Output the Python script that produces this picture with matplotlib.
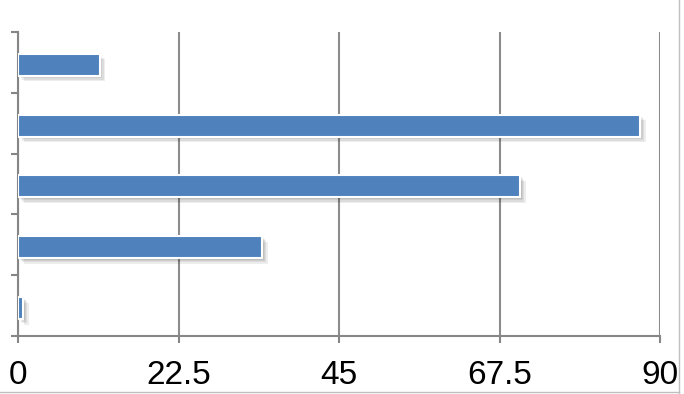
import matplotlib
matplotlib.use('Agg')
import matplotlib.pyplot as plt
import matplotlib.patheffects as pe
from matplotlib.lines import Line2D

# bar values, top to bottom
values = [11.4, 87.2, 70.4, 34.2, 0.7]
xticks = [0, 22.5, 45, 67.5, 90]
xticklabels = ['0', '22.5', '45', '67.5', '90']

plt.rcParams['font.family'] = ['Liberation Sans', 'DejaVu Sans']

fig = plt.figure(figsize=(6.84, 3.94), dpi=100)
ax = fig.add_axes([0.0268, 0.147, 0.938, 0.772])

n = len(values)
ypos = [n - 1 - i - 0.04 for i in range(n)]
bars = ax.barh(ypos, values, height=0.36, color='#4F81BD',
               edgecolor='white', linewidth=1.5, zorder=3)
# soft drop shadow made of a few faint layers
shadow = [pe.SimplePatchShadow(offset=(d, -d), shadow_rgbFace='black', alpha=0.07)
          for d in (1, 2, 3, 4)]
for b in bars:
    b.set_path_effects(shadow + [pe.Normal()])

ax.set_xlim(0, 90)
ax.set_ylim(-0.5, n - 0.5)
ax.set_xticks(xticks)
ax.set_xticklabels(xticklabels, fontsize=24)
ax.set_yticks([k - 0.5 for k in range(n + 1)])
ax.set_yticklabels([])

ax.grid(axis='x', color='#8c8c8c', linewidth=1.5, zorder=0)
ax.set_axisbelow(True)
for s in ['top', 'right']:
    ax.spines[s].set_visible(False)
for s in ['left', 'bottom']:
    ax.spines[s].set_color('#868686')
    ax.spines[s].set_linewidth(1.5)
ax.tick_params(axis='both', color='#868686', width=1.5, length=5)
ax.tick_params(axis='x', pad=12)

# chart area border (partially visible)
fig.add_artist(Line2D([679 / 684, 679 / 684], [0.0, 1.0],
                      transform=fig.transFigure, color='#bfbfbf', linewidth=1))
fig.add_artist(Line2D([0.0, 679 / 684], [2 / 394, 2 / 394],
                      transform=fig.transFigure, color='#bfbfbf', linewidth=1))

plt.savefig('out.png', dpi=100)
